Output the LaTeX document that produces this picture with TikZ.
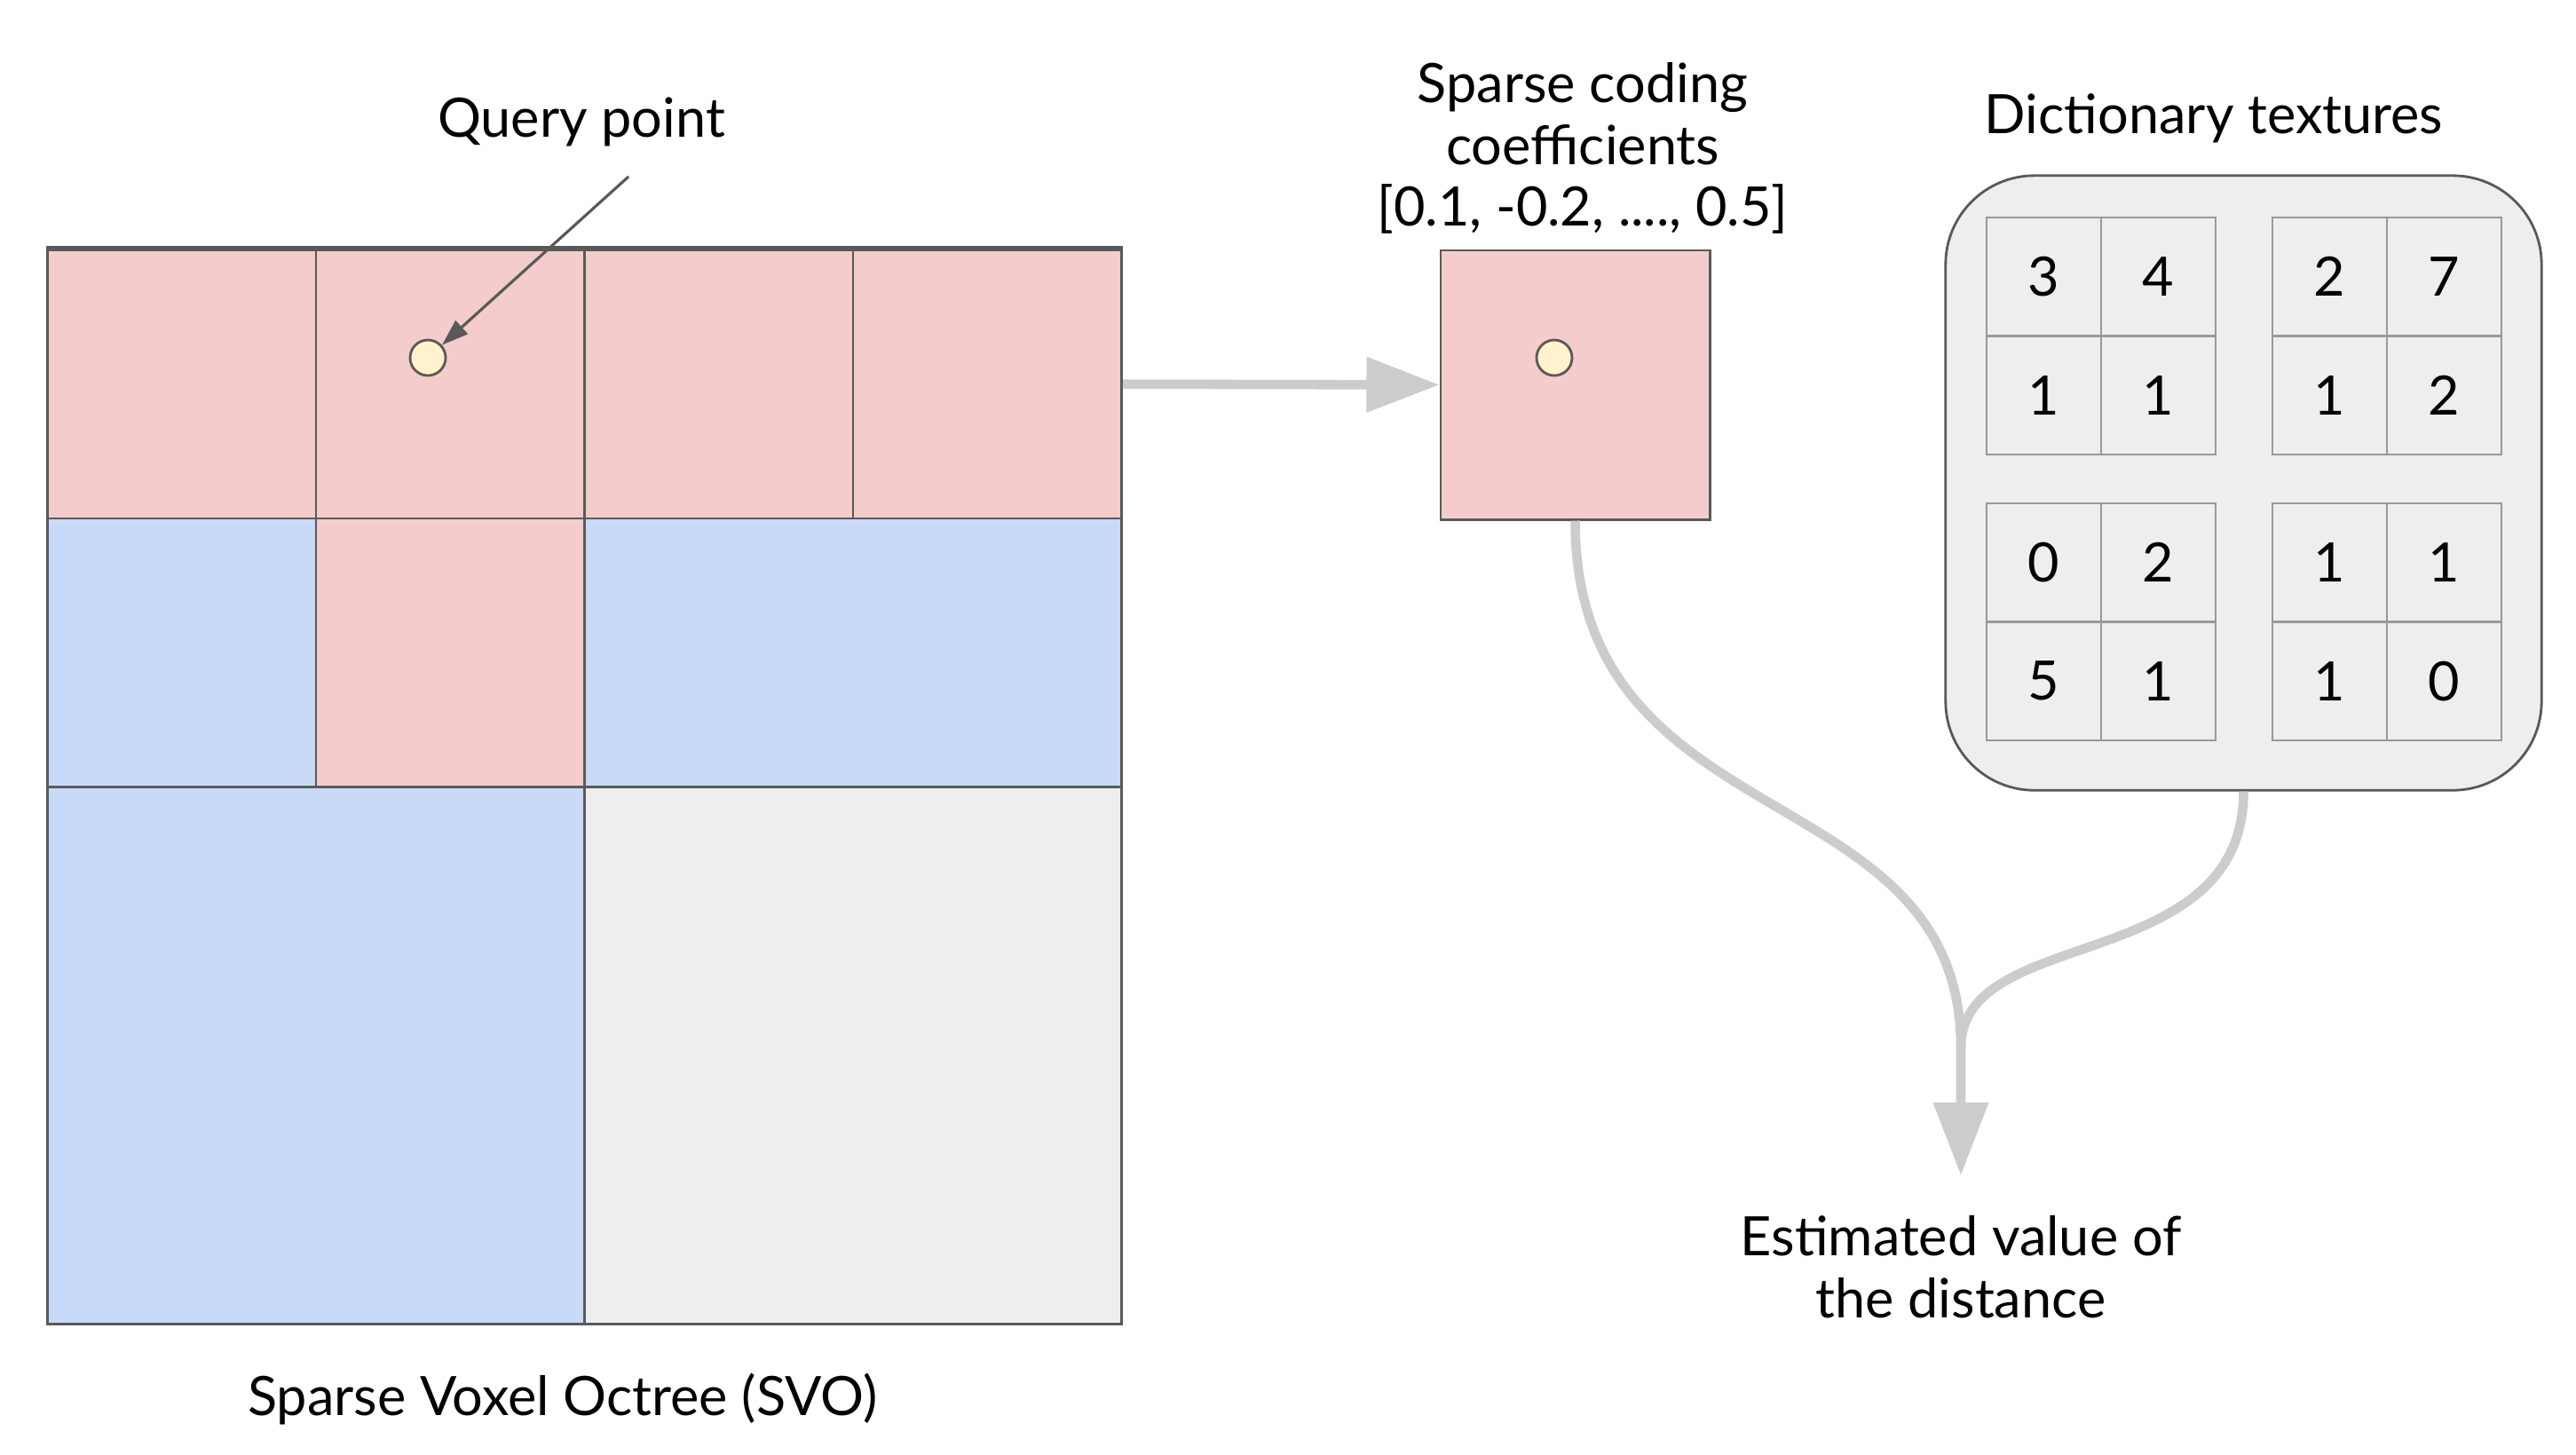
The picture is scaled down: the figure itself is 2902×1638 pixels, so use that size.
\documentclass[tikz,border=0pt]{standalone}
\usepackage{fontspec}
\setmainfont{Lato}
\usetikzlibrary{arrows.meta}

\definecolor{pinkc}{HTML}{F4CCCC}
\definecolor{bluec}{HTML}{C9DAF8}
\definecolor{greyc}{HTML}{EEEEEE}
\definecolor{edgec}{HTML}{595959}
\definecolor{pointc}{HTML}{FFF2CC}
\definecolor{arrowc}{HTML}{CCCCCC}
\definecolor{gridc}{HTML}{999999}

\tikzset{
  cellbox/.style={draw=edgec, line width=0.8pt, inner sep=0pt},
  gridbox/.style={draw=gridc, line width=0.8pt},
  ptnode/.style={circle, draw=edgec, fill=pointc, line width=0.8pt, minimum size=0.4cm, inner sep=0pt},
  lbl/.style={align=center, font=\fontsize{17.4}{19.8}\selectfont, inner sep=0pt},
  pointer/.style={draw=edgec, line width=0.9pt, -{Triangle[length=0.3cm,width=0.2cm]}},
  flow/.style={draw=arrowc, line width=3pt},
  flowtip/.style={flow, -{Triangle[length=0.82cm,width=0.6cm]}},
}

\begin{document}
\begin{tikzpicture}[x=0.01cm, y=-0.01cm]
\useasboundingbox (0,0) rectangle (2902,1638);

 \def\d{302.5};
 \def\ox{52};
 \def\oy{280};

%octree cells
    \foreach \i/\j/\w/\h/\col/\name in {0/0/1/1/pinkc/t1, 1/0/1/1/pinkc/t2, 2/0/1/1/pinkc/t3, 3/0/1/1/pinkc/t4, 0/1/1/1/bluec/m1, 1/1/1/1/pinkc/m2, 2/1/2/1/bluec/m3, 0/2/2/2/bluec/b1, 2/2/2/2/greyc/b2}{
         \node[cellbox, fill=\col, anchor=north west, minimum width=\w*3.025cm, minimum height=\h*3.025cm] (\name) at (\ox+\i*\d, \oy+\j*\d) {};
    }
    \draw[cellbox, line width=1.6pt] (t1.north west) -- (t4.north east);

 \node[lbl] (svolbl) at (634,1576) {Sparse Voxel Octree (SVO)};

%query point
 \node[ptnode] (qp) at (482,403) {};
 \node[lbl] (qlbl) at (655,137) {Query point};
 \coordinate (qfrom) at (708,199);
 \draw[pointer] (qfrom) -- (qp);

%sparse coding
 \node[cellbox, fill=pinkc, minimum size=3.03cm] (sbox) at (1774.5,433.5) {};
 \node[ptnode] (sp) at (1751,403) {};
 \node[lbl] (slbl) at (1783,167) {Sparse coding\\coefficients\\{}[0.1, -0.2, ...., 0.5]};
 \draw[flowtip] (t4.east) -- (sbox.west);

%dictionary
 \node[cellbox, fill=greyc, rounded corners=1cm, minimum width=6.71cm, minimum height=6.92cm] (dict) at (2527.5,544) {};
 \node[lbl] (dlbl) at (2494,133) {Dictionary textures};

 \def\gw{129};
 \def\gh{133.5};
    \foreach \bx/\by/\pa/\pb/\pc/\pd [count=\k] in {2238/245/3/4/1/1, 2560/245/2/7/1/2, 2238/567/0/2/5/1, 2560/567/1/1/1/0}{
         \draw[gridbox] (\bx,\by) rectangle (\bx+2*\gw,\by+2*\gh);
         \draw[gridbox] (\bx+\gw,\by) -- (\bx+\gw,\by+2*\gh);
         \draw[gridbox] (\bx,\by+\gh) -- (\bx+2*\gw,\by+\gh);
         \node[lbl] (n\k1) at (\bx+\gw/2, \by+\gh/2) {\pa};
         \node[lbl] (n\k2) at (\bx+3*\gw/2, \by+\gh/2) {\pb};
         \node[lbl] (n\k3) at (\bx+\gw/2, \by+3*\gh/2) {\pc};
         \node[lbl] (n\k4) at (\bx+3*\gw/2, \by+3*\gh/2) {\pd};
    }

%estimate
 \coordinate (merge) at (2209,1180);
 \coordinate (tip) at (2209,1324);
 \node[lbl] (elbl) at (2209,1427) {Estimated value of\\the distance};

 \draw[flowtip] (sbox.south) .. controls (1774.5,950) and (2209,870) .. (merge) -- (tip);
 \draw[flow] (dict.south) .. controls (2527.5,1100) and (2209,1040) .. (merge);

\end{tikzpicture}
\end{document}
